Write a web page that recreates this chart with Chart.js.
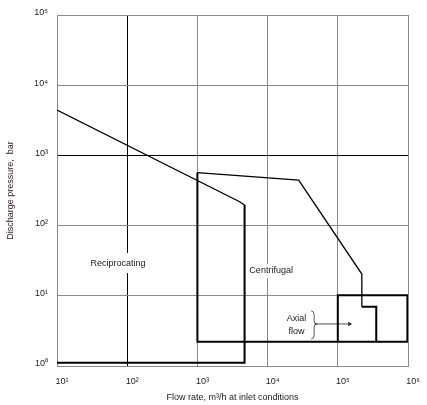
<!DOCTYPE html>
<html>
<head>
<meta charset="utf-8">
<script src="https://cdn.jsdelivr.net/npm/chart.js@4.4.0/dist/chart.umd.min.js"></script>
<style>
  html, body { margin: 0; padding: 0; background: #fff; }
  #chart { display: block; }
</style>
</head>
<body>
<canvas id="chart" width="427" height="405"></canvas>
<script>
// outlines: [flow m3/h, pressure bar]
const recipTop = [[10, 4430], [4000, 219], [4700, 196]];
const recipBox = [[4700, 196], [4700, 1.11], [10, 1.11]];
const centTop = [[1000, 567], [27700, 445], [220000, 20.4], [220000, 7.0]];
const centBox = [[220000, 7.0], [353000, 7.0], [353000, 2.22], [1000, 2.22], [1000, 567]];
const axialBox = [[353000, 2.22], [980000, 2.22], [980000, 10.2], [100000, 10.2], [100000, 2.22]];
const axialArrow = [[46800, 3.97], [147000, 3.97]];
const axialBrace = { x: 46000, top: 6.1, mid: 3.97, bottom: 2.42 };

const xTicks = [10, 100, 1000, 10000, 100000, 1000000];
const yTicks = [1, 10, 100, 1000, 10000, 100000];

const regionLabels = [
  { text: 'Reciprocating', x: 74, y: 29.3, align: 'center', gap: 20 },
  { text: 'Centrifugal', x: 5500, y: 22.6, align: 'left', gap: 14 },
  { text: 'Axial', x: 25900, y: 4.67, align: 'center', gap: 0 },
  { text: 'flow', x: 25900, y: 3.15, align: 'center', gap: 0 }
];

const FONT = 'Liberation Sans, Arial, sans-serif';
const INK = '#222';
const SUP = { '0': '\u2070', '1': '\u00b9', '2': '\u00b2', '3': '\u00b3', '4': '\u2074', '5': '\u2075', '6': '\u2076' };

function pow10Label(v) {
  const e = Math.round(Math.log10(v));
  return '10' + SUP[String(e)];
}

function toPoints(list) {
  return list.map(p => ({ x: p[0], y: p[1] }));
}

function outline(list, width) {
  return {
    data: toPoints(list),
    showLine: true,
    borderColor: '#000',
    borderWidth: width,
    pointRadius: 0,
    fill: false,
    tension: 0
  };
}

// labels + brace, drawn in data coords through the scales
const annotations = {
  id: 'annotations',
  beforeDatasetsDraw(chart) {
    const { ctx, scales: { x, y } } = chart;
    ctx.save();
    ctx.font = '9px ' + FONT;
    ctx.textBaseline = 'middle';
    regionLabels.forEach(l => {
      const px = x.getPixelForValue(l.x);
      const py = y.getPixelForValue(l.y);
      const w = ctx.measureText(l.text).width;
      const left = l.align === 'center' ? px - w / 2 : px;
      if (l.gap) {
        ctx.fillStyle = '#fff';
        ctx.fillRect(left - 2, py - l.gap / 2, w + 4, l.gap);
      }
      ctx.fillStyle = INK;
      ctx.textAlign = l.align;
      ctx.fillText(l.text, px, py);
    });

    const bx = x.getPixelForValue(axialBrace.x);
    const bt = y.getPixelForValue(axialBrace.top);
    const bm = y.getPixelForValue(axialBrace.mid);
    const bb = y.getPixelForValue(axialBrace.bottom);
    ctx.strokeStyle = '#333';
    ctx.lineWidth = 0.8;
    ctx.beginPath();
    ctx.moveTo(bx - 3, bt);
    ctx.quadraticCurveTo(bx, bt, bx, bt + 4);
    ctx.lineTo(bx, bm - 3);
    ctx.quadraticCurveTo(bx, bm, bx + 3, bm);
    ctx.quadraticCurveTo(bx, bm, bx, bm + 3);
    ctx.lineTo(bx, bb - 4);
    ctx.quadraticCurveTo(bx, bb, bx - 3, bb);
    ctx.stroke();
    ctx.restore();
  }
};

new Chart(document.getElementById('chart'), {
  type: 'scatter',
  data: {
    datasets: [
      outline(recipTop, 1.3),
      outline(recipBox, 2),
      outline(centTop, 1.3),
      outline(centBox, 2),
      outline(axialBox, 2),
      {
        data: toPoints(axialArrow),
        showLine: true,
        borderColor: INK,
        backgroundColor: INK,
        borderWidth: 0.8,
        pointRadius: [0, 2.5],
        pointStyle: 'triangle',
        rotation: 90,
        pointBorderWidth: 0
      }
    ]
  },
  options: {
    responsive: false,
    animation: false,
    devicePixelRatio: 1,
    layout: { padding: { top: 15, right: 19, left: 0, bottom: 0 } },
    plugins: { legend: { display: false }, tooltip: { enabled: false } },
    scales: {
      x: {
        type: 'logarithmic',
        min: 10,
        max: 1000000,
        afterBuildTicks: s => { s.ticks = xTicks.map(v => ({ value: v })); },
        afterFit: s => { s.height = 39; },
        grid: {
          drawTicks: false,
          lineWidth: 1,
          color: c => c.tick && c.tick.value === 100 ? '#000' : '#8a8a8a'
        },
        border: { color: '#8a8a8a' },
        ticks: {
          callback: v => pow10Label(v),
          font: { family: FONT, size: 9 },
          color: INK,
          padding: 10,
          labelOffset: 5,
          maxRotation: 0,
          autoSkip: false
        },
        title: {
          display: true,
          text: 'Flow rate, m\u00b3/h at inlet conditions',
          font: { family: FONT, size: 9 },
          color: INK,
          padding: { top: 0, bottom: 2 }
        }
      },
      y: {
        type: 'logarithmic',
        min: 1,
        max: 100000,
        afterBuildTicks: s => { s.ticks = yTicks.map(v => ({ value: v })); },
        afterFit: s => { s.width = 57; },
        grid: {
          drawTicks: false,
          lineWidth: 1,
          color: c => c.tick && c.tick.value === 1000 ? '#000' : '#8a8a8a'
        },
        border: { color: '#8a8a8a' },
        ticks: {
          callback: v => pow10Label(v),
          font: { family: FONT, size: 9 },
          color: INK,
          padding: 9,
          labelOffset: -2,
          autoSkip: false
        },
        title: {
          display: true,
          text: 'Discharge pressure,  bar',
          font: { family: FONT, size: 9 },
          color: '#3a1a24',
          padding: { top: 5, bottom: 0 }
        }
      }
    }
  },
  plugins: [annotations]
});
</script>
</body>
</html>
